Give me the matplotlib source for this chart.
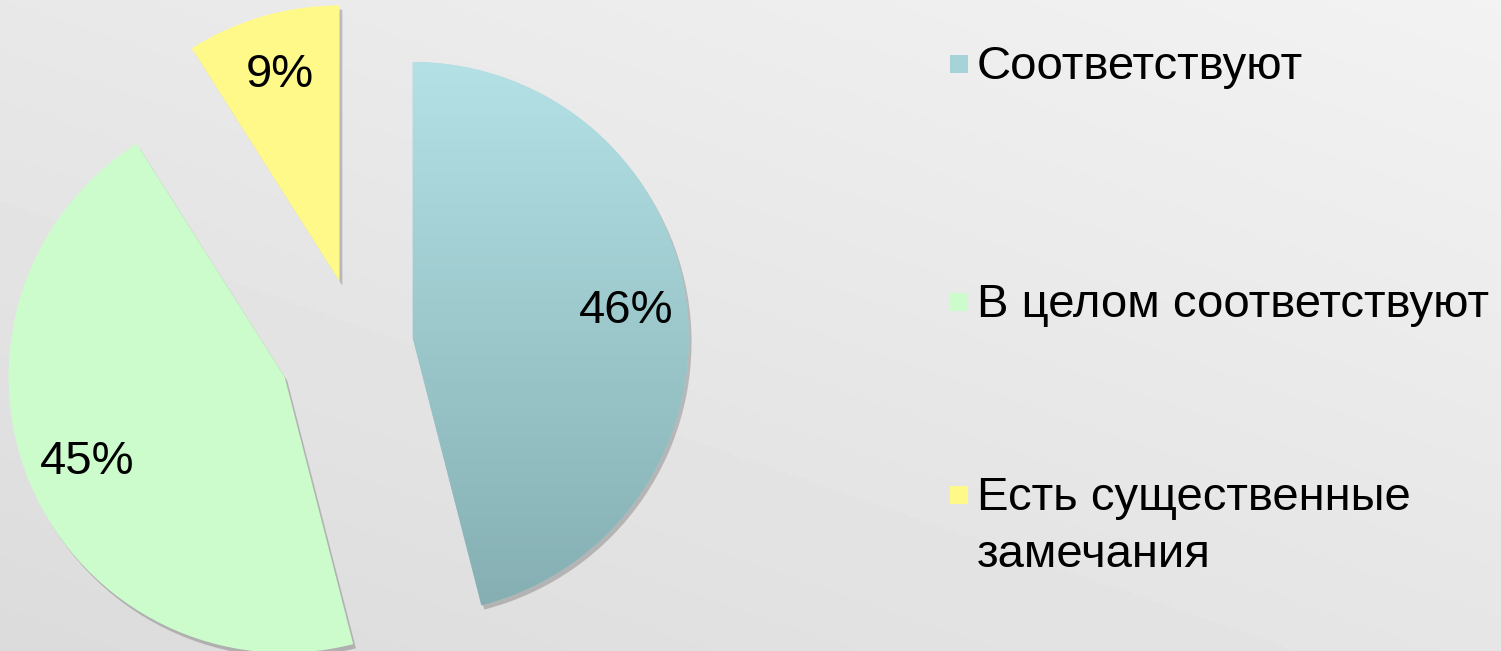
import numpy as np
import matplotlib.pyplot as plt
import matplotlib.patheffects as pe
from matplotlib.patches import Rectangle
from matplotlib.colors import LinearSegmentedColormap

# data
CATEGORIES = ['Соответствуют', 'В целом соответствуют', 'Есть существенные\nзамечания']
SHARES = [46, 45, 9]
COLORS = ['#a6d3d8', '#ccfccc', '#fff98a']
EXPLODE = [0.20, 0.29, 0.24]   # as fraction of radius

# layout (pixels)
W, H = 1501, 651
DPI = 100
PIE_CENTER = (358, 306)
PIE_RADIUS = 276
LEGEND_MARK_X = 950
LEGEND_TEXT_X = 977
LEGEND_BASELINES = [79, 317, 510]   # from top, first line of each entry
LINE_STEP = 57
FONT_SIZE = 34

plt.rcParams['font.family'] = ['Liberation Sans', 'DejaVu Sans']

fig = plt.figure(figsize=(W / DPI, H / DPI), dpi=DPI)
ax = fig.add_axes([0, 0, 1, 1])

# soft grey background, lighter towards the top right
yy, xx = np.mgrid[0:1:200j, 0:1:400j]
bg = 0.86 + 0.05 * yy + 0.04 * xx
ax.imshow(bg, cmap='gray', vmin=0, vmax=1, extent=(0, W, 0, H),
          origin='lower', aspect='auto', zorder=0)

shadow = [pe.SimplePatchShadow(offset=(2, -3), shadow_rgbFace='k', alpha=0.2), pe.Normal()]

wedges, texts, autotexts = ax.pie(
    SHARES, colors=COLORS, startangle=90, counterclock=False,
    explode=[e * PIE_RADIUS for e in EXPLODE], radius=PIE_RADIUS,
    center=PIE_CENTER, autopct=lambda p: f'{p:.0f}%', pctdistance=0.78,
    frame=True, wedgeprops=dict(linewidth=0),
    textprops=dict(fontsize=FONT_SIZE, color='black'))

for w in wedges:
    w.set_path_effects(shadow)
    w.set_zorder(2)
for t in autotexts:
    t.set_zorder(4)

# vertical gradient on the first slice
teal = LinearSegmentedColormap.from_list('teal', ['#84aeb2', '#b3e1e5'])
grad = np.linspace(0, 1, 256).reshape(-1, 1)
cx, cy = wedges[0].center
r = wedges[0].r
im = ax.imshow(grad, cmap=teal, extent=(cx - r, cx + r, cy - r, cy + r),
               origin='lower', aspect='auto', zorder=3)
im.set_clip_path(wedges[0])

# legend drawn by hand so rows sit like the original
for i, label in enumerate(CATEGORIES):
    base = H - LEGEND_BASELINES[i]
    for k, line in enumerate(label.split('\n')):
        ax.text(LEGEND_TEXT_X, base - k * LINE_STEP, line, fontsize=FONT_SIZE,
                va='baseline', ha='left', zorder=5)
    ax.add_patch(Rectangle((LEGEND_MARK_X, base + 6), 18, 18,
                           facecolor=COLORS[i], edgecolor='none', zorder=5))

ax.set_xlim(0, W)
ax.set_ylim(0, H)
ax.set_aspect('auto')
ax.axis('off')

fig.savefig('out.png', dpi=DPI)
